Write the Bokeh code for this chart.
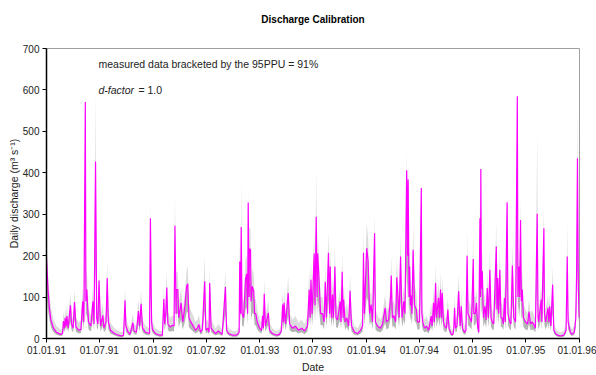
from bokeh.plotting import figure
from bokeh.models import ColumnDataSource, Label, FixedTicker, Range1d, Title
from bokeh.embed import file_html
from bokeh.resources import INLINE

# days since 01.01.1991, measured discharge, lower and upper 95PPU (m3/s)
day = [0, 2, 5, 10, 15, 24, 34, 48, 55, 58, 62, 64, 67, 70, 74, 82, 86, 91, 96, 101, 110, 118, 124, 128, 133, 135, 138, 144, 152, 159, 163, 168, 172, 176, 180, 185, 193, 197, 204, 208, 212, 219, 233, 247, 257, 264, 269, 272, 278, 286, 296, 300, 308, 315, 319, 324, 329, 339, 353, 356, 360, 363,
       373, 387, 397, 402, 405, 409, 412, 416, 423, 431, 437, 440, 444, 445, 450, 453, 461, 467, 474, 480, 484, 488, 493, 503, 510, 517, 522, 528, 534, 542, 546, 553, 557, 559, 564, 569, 579, 589, 602, 613, 617, 624, 637, 651, 660, 662, 665, 667, 670, 675, 682, 686, 689, 691, 694, 695, 699, 701, 705, 710, 713, 717, 722, 730,
       737, 740, 743, 746, 750, 760, 764, 774, 788, 798, 805, 809, 812, 814, 819, 828, 833, 843, 853, 863, 874, 884, 894, 900, 903, 906, 910, 917, 920, 924, 927, 929, 934, 939, 946, 951, 955, 959, 966, 970, 972, 976, 980, 983, 988, 992, 997, 1006, 1009, 1013, 1016, 1018, 1023, 1029, 1035, 1040, 1045, 1055, 1066, 1076, 1083, 1086, 1089, 1097,
       1102, 1107, 1112, 1117, 1124, 1127, 1134, 1144, 1151, 1160, 1165, 1172, 1179, 1181, 1185, 1190, 1196, 1200, 1204, 1208, 1213, 1218, 1224, 1228, 1234, 1237, 1239, 1242, 1244, 1247, 1249, 1252, 1256, 1261, 1267, 1271, 1278, 1284, 1286, 1289, 1295, 1302, 1309, 1318, 1321, 1326, 1329, 1333, 1336, 1343, 1346, 1350, 1353, 1356, 1360, 1364, 1370, 1375, 1379, 1387, 1392, 1395, 1398, 1401, 1406, 1412, 1417, 1421, 1425, 1432, 1437, 1441, 1444, 1450, 1456, 1462, 1464, 1469,
       1473, 1477, 1481, 1485, 1487, 1488, 1490, 1493, 1497, 1502, 1506, 1510, 1514, 1519, 1523, 1527, 1532, 1541, 1543, 1546, 1549, 1553, 1557, 1561, 1565, 1569, 1572, 1578, 1581, 1587, 1591, 1596, 1601, 1607, 1613, 1615, 1618, 1621, 1624, 1627, 1630, 1634, 1641, 1648, 1653, 1658, 1663, 1669, 1675, 1681, 1684, 1686, 1695, 1697, 1704, 1706, 1710, 1718, 1721, 1724, 1728, 1734, 1738, 1744, 1751, 1761, 1772, 1780, 1784, 1787, 1790, 1795, 1800, 1808, 1813, 1816, 1819, 1822, 1825]

measured = [195, 162, 120, 74, 45, 25, 15, 10, 12, 42, 25, 50, 30, 54, 25, 80, 35, 25, 88, 28, 20, 22, 90, 40, 571, 90, 118, 40, 30, 90, 35, 427, 50, 35, 140, 30, 56, 25, 40, 146, 40, 20, 12, 8, 6, 8, 92, 30, 18, 10, 38, 18, 15, 66, 30, 84, 25, 15, 12, 290, 40, 22,
            12, 8, 8, 95, 35, 66, 123, 35, 28, 32, 30, 272, 60, 118, 118, 50, 86, 40, 78, 126, 132, 50, 42, 30, 20, 25, 34, 15, 22, 138, 20, 25, 15, 134, 25, 20, 12, 18, 10, 124, 20, 12, 8, 8, 15, 186, 60, 269, 60, 50, 144, 156, 60, 328, 100, 217, 214, 90, 126, 114, 60, 60, 40, 25,
            20, 55, 25, 108, 30, 62, 20, 12, 8, 10, 20, 82, 40, 86, 35, 110, 35, 25, 30, 20, 25, 18, 30, 118, 50, 142, 60, 205, 80, 294, 100, 205, 138, 60, 60, 40, 137, 50, 207, 60, 174, 50, 106, 50, 174, 50, 45, 90, 40, 161, 50, 94, 40, 50, 30, 115, 30, 15, 12, 20, 30, 207, 60, 218,
            186, 60, 82, 40, 254, 40, 30, 25, 35, 74, 40, 45, 102, 152, 50, 55, 40, 148, 102, 50, 198, 50, 90, 60, 406, 200, 384, 100, 174, 80, 104, 60, 214, 80, 70, 40, 40, 363, 60, 40, 25, 30, 20, 54, 30, 86, 40, 134, 50, 98, 50, 118, 50, 110, 40, 30, 25, 70, 25, 10, 10, 20, 74, 25, 30, 114, 30, 78, 25, 15, 20, 200, 60, 50, 40, 192, 60, 60,
            86, 30, 15, 290, 100, 409, 120, 162, 50, 78, 45, 122, 50, 166, 50, 40, 35, 222, 70, 146, 60, 166, 50, 50, 35, 98, 40, 329, 60, 40, 35, 176, 50, 40, 585, 100, 174, 100, 286, 90, 118, 50, 40, 35, 65, 35, 40, 35, 25, 301, 50, 40, 94, 40, 266, 60, 40, 74, 40, 78, 30, 130, 20, 12, 8, 6, 8, 20, 198, 40, 30, 15, 10, 15, 46, 150, 435, 120, 50]

ppu_low = [120, 95, 70, 45, 28, 15, 9, 6, 7, 22, 15, 28, 18, 30, 15, 40, 20, 15, 45, 16, 12, 13, 45, 22, 200, 50, 60, 22, 17, 45, 20, 180, 28, 20, 60, 17, 30, 15, 22, 65, 22, 12, 7, 4, 3, 4, 45, 17, 10, 6, 20, 10, 9, 35, 17, 42, 15, 9, 7, 120, 22, 13,
           7, 4, 4, 45, 20, 35, 60, 20, 16, 18, 17, 120, 32, 60, 60, 28, 45, 22, 40, 62, 65, 28, 23, 17, 12, 15, 19, 9, 13, 65, 12, 15, 9, 62, 15, 12, 7, 10, 6, 60, 12, 7, 4, 4, 9, 85, 32, 120, 32, 28, 70, 75, 32, 140, 50, 100, 100, 45, 62, 58, 32, 32, 22, 15,
           12, 30, 15, 52, 17, 33, 12, 7, 4, 6, 12, 42, 22, 44, 20, 55, 20, 15, 17, 12, 15, 10, 17, 58, 28, 68, 32, 95, 42, 130, 50, 95, 66, 32, 32, 22, 66, 28, 95, 32, 82, 28, 52, 28, 82, 28, 25, 45, 22, 78, 28, 47, 22, 28, 17, 56, 17, 9, 7, 12, 17, 95, 32, 100,
           88, 32, 42, 22, 115, 22, 17, 15, 20, 38, 22, 25, 50, 72, 28, 30, 22, 70, 50, 28, 90, 28, 45, 32, 170, 90, 160, 50, 82, 42, 52, 32, 100, 42, 37, 22, 22, 150, 32, 22, 15, 17, 12, 29, 17, 44, 22, 64, 28, 48, 28, 57, 28, 54, 22, 17, 15, 36, 15, 6, 6, 12, 38, 15, 17, 56, 17, 40, 15, 9, 12, 90, 32, 28, 22, 90, 32, 32,
           44, 17, 9, 130, 50, 170, 60, 78, 28, 40, 25, 60, 28, 80, 28, 22, 20, 100, 37, 70, 32, 80, 28, 28, 20, 48, 22, 140, 32, 22, 20, 84, 28, 22, 230, 50, 82, 50, 125, 45, 58, 28, 22, 20, 35, 20, 22, 20, 15, 130, 28, 22, 47, 22, 120, 32, 22, 38, 22, 40, 17, 63, 12, 7, 4, 3, 4, 12, 90, 22, 17, 9, 6, 9, 25, 72, 180, 60, 28]

ppu_high = [230, 200, 160, 110, 75, 45, 30, 22, 25, 65, 45, 75, 50, 80, 45, 110, 60, 45, 120, 50, 40, 42, 125, 70, 560, 150, 170, 70, 55, 125, 60, 590, 90, 60, 180, 55, 85, 45, 65, 185, 70, 38, 25, 18, 15, 18, 125, 55, 35, 22, 60, 35, 30, 95, 55, 115, 45, 30, 25, 330, 75, 42,
            25, 18, 18, 130, 60, 95, 165, 65, 50, 55, 55, 345, 100, 160, 160, 85, 120, 70, 110, 165, 175, 85, 70, 55, 40, 45, 58, 30, 42, 200, 40, 45, 30, 175, 45, 38, 25, 35, 22, 165, 40, 25, 18, 18, 30, 240, 100, 385, 100, 85, 190, 200, 100, 360, 150, 270, 265, 140, 170, 155, 95, 95, 70, 45,
            38, 85, 45, 145, 55, 90, 38, 25, 18, 22, 38, 115, 70, 120, 60, 150, 60, 45, 55, 38, 45, 35, 55, 165, 85, 190, 100, 260, 130, 410, 160, 260, 185, 100, 100, 70, 185, 85, 260, 100, 225, 85, 145, 85, 225, 85, 75, 125, 70, 210, 85, 130, 70, 85, 55, 155, 55, 30, 25, 38, 55, 270, 100, 280,
            240, 100, 115, 70, 300, 70, 55, 45, 60, 105, 70, 75, 140, 200, 85, 90, 70, 195, 140, 85, 250, 85, 125, 100, 450, 260, 430, 160, 225, 130, 145, 100, 270, 130, 110, 70, 70, 390, 100, 70, 45, 55, 38, 85, 55, 120, 70, 180, 85, 135, 85, 160, 85, 150, 70, 55, 45, 100, 45, 22, 22, 38, 105, 45, 55, 155, 55, 110, 45, 30, 38, 260, 100, 85, 70, 245, 100, 100,
            120, 55, 30, 340, 160, 430, 180, 210, 85, 110, 75, 165, 85, 215, 85, 70, 60, 280, 110, 190, 100, 215, 85, 85, 60, 135, 70, 345, 100, 70, 60, 230, 85, 70, 600, 160, 225, 160, 340, 140, 160, 85, 70, 60, 95, 60, 70, 60, 45, 500, 90, 70, 130, 70, 320, 100, 70, 105, 70, 110, 55, 175, 38, 25, 18, 15, 18, 38, 280, 70, 55, 30, 22, 30, 75, 200, 550, 180, 85]

tick_days = [0, 181, 365, 547, 731, 912, 1096, 1277, 1461, 1642, 1826]
tick_labels = ["01.01.91", "01.07.91", "01.01.92", "01.07.92", "01.01.93", "01.07.93",
               "01.01.94", "01.07.94", "01.01.95", "01.07.95", "01.01.96"]
y_ticks = [0, 100, 200, 300, 400, 500, 600, 700]

FONT = "Liberation Sans"

src = ColumnDataSource(dict(day=day, v=measured, lo=ppu_low, hi=ppu_high))

p = figure(width=596, height=375, output_backend="svg", toolbar_location=None,
           x_range=Range1d(0, 1826), y_range=Range1d(0, 700),
           min_border_left=46, min_border_right=17, min_border_top=48, min_border_bottom=36)
p.background_fill_color = "white"
p.border_fill_color = "white"
p.outline_line_color = "#a0a0a0"
p.outline_line_width = 1
p.xgrid.visible = False
p.ygrid.visible = False

# real title (outermost) plus an invisible spacer between it and the frame
p.title.text = "Discharge Calibration"
p.title.align = "center"
p.title.text_font = FONT
p.title.text_font_size = "10px"
p.title.text_font_style = "bold"
p.title.text_color = "#000000"
p.title.standoff = 0
spacer = Title(text=" ", text_font_size="10px", standoff=11, text_color="white")
p.add_layout(spacer, "above")

p.varea(x="day", y1="v", y2="hi", source=src, fill_color="#dcdcdc")
p.varea(x="day", y1="lo", y2="v", source=src, fill_color="#b4b4b4")
p.line(x="day", y="v", source=src, line_color="#ff00ff", line_width=1.2)

p.xaxis.ticker = FixedTicker(ticks=tick_days)
p.xaxis.major_label_overrides = {d: s for d, s in zip(tick_days, tick_labels)}
p.yaxis.ticker = FixedTicker(ticks=y_ticks)
for ax in (p.xaxis[0], p.yaxis[0]):
    ax.axis_line_color = "black"
    ax.axis_line_width = 1.5
    ax.major_tick_line_color = "black"
    ax.major_tick_in = 0
    ax.major_tick_out = 4
    ax.minor_tick_line_color = None
    ax.major_label_text_font = FONT
    ax.major_label_text_font_size = "10px"
    ax.major_label_text_color = "#222222"
    ax.axis_label_text_font = FONT
    ax.axis_label_text_font_size = "10.5px"
    ax.axis_label_text_font_style = "normal"
    ax.axis_label_text_color = "#222222"
p.xaxis.axis_label = "Date"
p.xaxis.axis_label_standoff = 4
p.xaxis.major_label_standoff = 3
p.yaxis.axis_label = "Daily discharge (m³ s⁻¹)"
p.yaxis.axis_label_standoff = 0
p.yaxis.major_label_standoff = 3

p.add_layout(Label(x=178, y=662, text="measured data bracketed by the 95PPU = 91%",
                   text_font=FONT, text_font_size="10.5px", text_baseline="middle",
                   text_color="#222222"))
p.add_layout(Label(x=178, y=599, text="d-factor", text_font=FONT, text_font_size="10.5px",
                   text_font_style="italic", text_baseline="middle", text_color="#222222"))
p.add_layout(Label(x=178, y=599, x_offset=40, text="= 1.0", text_font=FONT,
                   text_font_size="10.5px", text_baseline="middle", text_color="#222222"))

open("out.html", "w").write(file_html(p, INLINE))
